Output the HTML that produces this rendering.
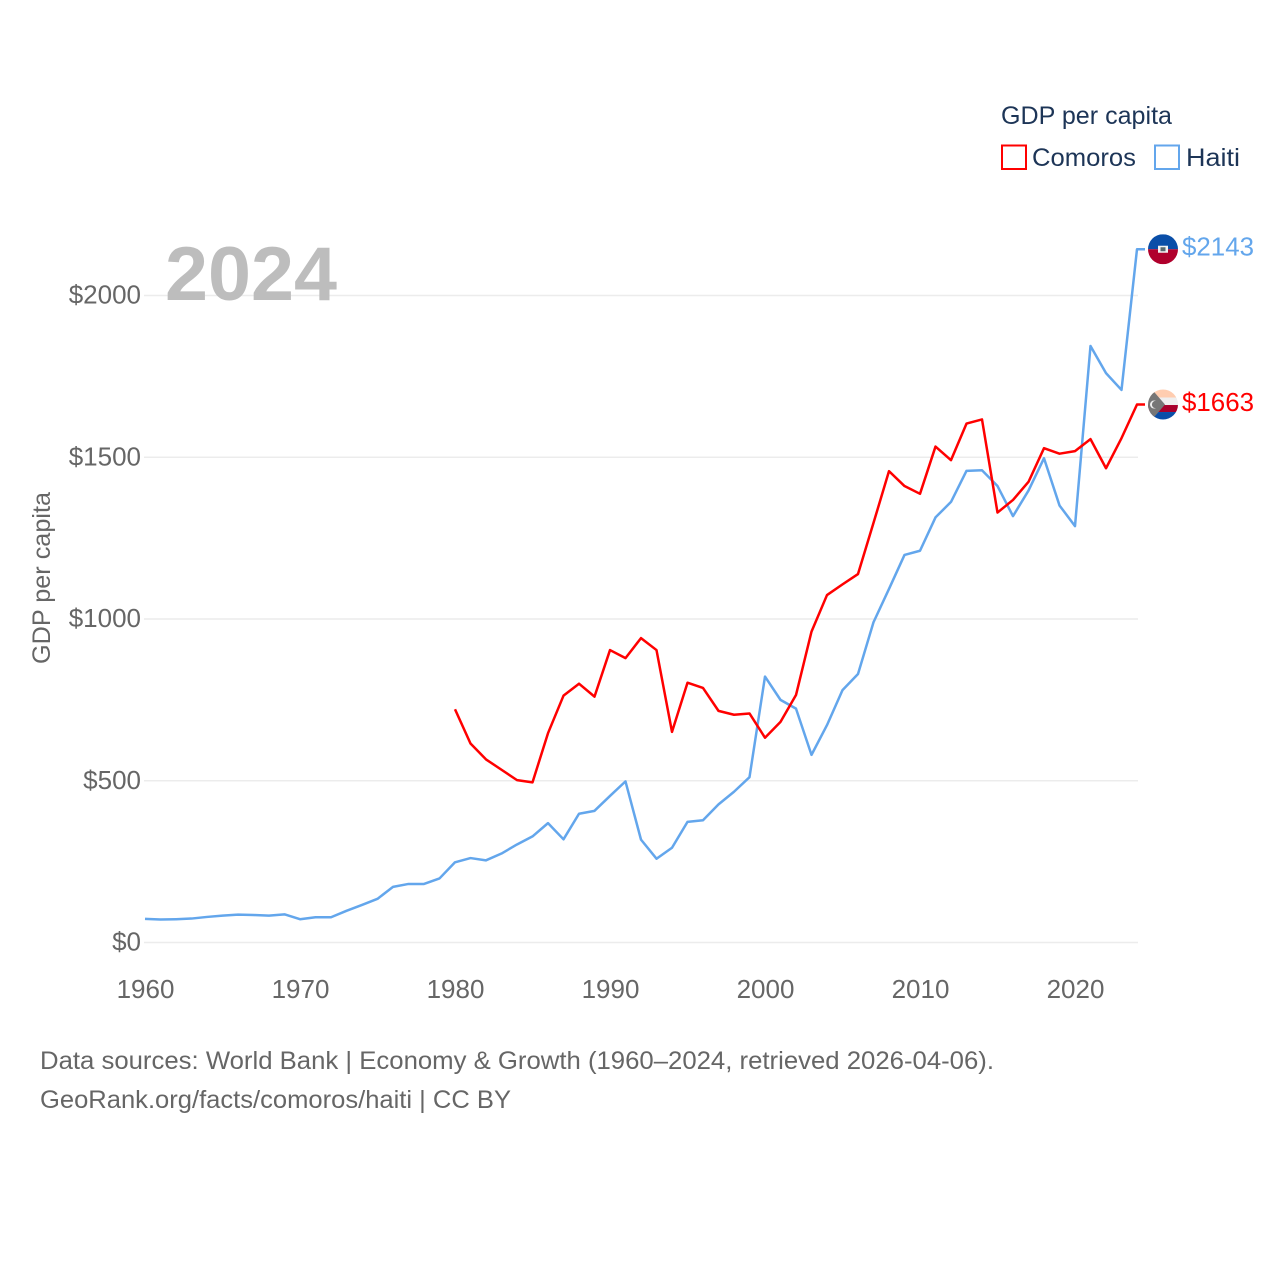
<!DOCTYPE html>
<html>
<head>
<meta charset="utf-8">
<title>GDP per capita: Comoros and Haiti</title>
<style>
html,body{margin:0;padding:0;background:#fff;}
svg{display:block;}
text{font-family:"Liberation Sans",sans-serif;}
</style>
</head>
<body>
<svg id="chart" xmlns="http://www.w3.org/2000/svg" width="1280" height="1280" viewBox="0 0 1280 1280">
  <defs>
    <clipPath id="flag-clip"><circle cx="0" cy="0" r="15"/></clipPath>
  </defs>
  <rect width="1280" height="1280" fill="#ffffff"/>
  <g id="grid"></g>
  <g id="yticks"></g>
  <g id="xticks"></g>
  <text x="165" y="300" font-size="76" font-weight="700" fill="#bdbdbd" textLength="172" lengthAdjust="spacingAndGlyphs">2024</text>
  <text transform="translate(50,578) rotate(-90)" text-anchor="middle" font-size="25" fill="#666666" textLength="172" lengthAdjust="spacingAndGlyphs">GDP per capita</text>
  <g id="series"></g>

  <g id="flag-haiti">
    <g clip-path="url(#flag-clip)">
      <rect x="-15" y="-15" width="30" height="15" fill="#0a4ea8"/>
      <rect x="-15" y="0" width="30" height="15" fill="#b0002c"/>
      <rect x="-5" y="-3.5" width="10" height="7" fill="#f2f2f2"/>
      <rect x="-2.5" y="-2" width="5" height="4" fill="#5a6a70"/>
    </g>
  </g>
  <g id="flag-comoros">
    <g clip-path="url(#flag-clip)">
      <rect x="-15" y="-15" width="30" height="8" fill="#ffcdb0"/>
      <rect x="-15" y="-7" width="30" height="7.5" fill="#efefef"/>
      <rect x="-15" y="0.5" width="30" height="7" fill="#a8002c"/>
      <rect x="-15" y="7.5" width="30" height="8" fill="#0a4ea8"/>
      <polygon points="-15,-15 -11,-15 2,0 -11,15 -15,15" fill="#767676"/>
      <circle cx="-9" cy="0" r="4" fill="#efefef"/>
      <circle cx="-7.5" cy="0" r="3.6" fill="#767676"/>
    </g>
  </g>
  <text id="label-haiti" x="1182" font-size="26" fill="#63a6ec" textLength="72" lengthAdjust="spacingAndGlyphs"></text>
  <text id="label-comoros" x="1182" font-size="26" fill="#ff0000" textLength="72" lengthAdjust="spacingAndGlyphs"></text>

  <g>
    <text x="1001" y="124" font-size="25" fill="#1d3557" textLength="171" lengthAdjust="spacingAndGlyphs">GDP per capita</text>
    <g>
      <rect x="1002" y="145.5" width="24" height="23.5" fill="#ffffff" stroke="#ff0000" stroke-width="2"/>
      <text x="1032" y="166" font-size="25" fill="#1d3557" textLength="104" lengthAdjust="spacingAndGlyphs">Comoros</text>
    </g>
    <g>
      <rect x="1155" y="145.5" width="24" height="23.5" fill="#ffffff" stroke="#63a6ec" stroke-width="2"/>
      <text x="1186" y="166" font-size="25" fill="#1d3557" textLength="54" lengthAdjust="spacingAndGlyphs">Haiti</text>
    </g>
  </g>

  <text x="40" y="1069" font-size="25" fill="#666666" textLength="954" lengthAdjust="spacingAndGlyphs">Data sources: World Bank | Economy &amp; Growth (1960–2024, retrieved 2026-04-06).</text>
  <text x="40" y="1108" font-size="25" fill="#666666" textLength="471" lengthAdjust="spacingAndGlyphs">GeoRank.org/facts/comoros/haiti | CC BY</text>
</svg>
<script>
const startYear = 1960;
const haitiValues = [73,71,72,74,79,83,86,85,83,87,72,78,78,98,116,135,172,181,181,198,248,261,254,275,303,328,369,319,398,407,453,498,318,259,293,373,378,427,466,511,822,750,723,580,672,780,830,990,1093,1198,1211,1314,1362,1458,1460,1411,1318,1397,1497,1351,1287,1844,1760,1708,2143];
const comorosStartYear = 1980;
const comorosValues = [721,615,566,534,502,495,647,763,800,760,904,879,941,904,651,803,787,716,704,708,633,682,765,961,1074,1107,1139,1297,1457,1411,1387,1533,1491,1604,1617,1329,1368,1424,1528,1511,1519,1556,1466,1559,1663];
const yTickValues = [0,500,1000,1500,2000];
const xTickYears = [1960,1970,1980,1990,2000,2010,2020];

const NS = 'http://www.w3.org/2000/svg';
function xScale(year){ return 145 + (year - 1960) * 15.5; }
function yScale(value){ return 942.5 - value * 0.3235; }
function money(value){ return '$' + value; }

const gridG = document.getElementById('grid');
const yG = document.getElementById('yticks');
yTickValues.forEach(function(v){
  const line = document.createElementNS(NS, 'line');
  
  
  line.setAttribute('x1', 144);
  line.setAttribute('x2', 1138);
  line.setAttribute('y1', yScale(v));
  line.setAttribute('y2', yScale(v));
  line.setAttribute('stroke', '#ececec');
  line.setAttribute('stroke-width', 1.5);
  gridG.appendChild(line);
  const t = document.createElementNS(NS, 'text');
  
  
  t.setAttribute('x', 141);
  t.setAttribute('y', yScale(v) + 8);
  t.setAttribute('text-anchor', 'end');
  t.setAttribute('font-size', 26);
  t.setAttribute('fill', '#666666');
  t.textContent = money(v);
  yG.appendChild(t);
});

const xG = document.getElementById('xticks');
xTickYears.forEach(function(y){
  const t = document.createElementNS(NS, 'text');
  
  
  t.setAttribute('x', xScale(y) + 0.5);
  t.setAttribute('y', 998);
  t.setAttribute('text-anchor', 'middle');
  t.setAttribute('font-size', 26);
  t.setAttribute('fill', '#666666');
  t.textContent = String(y);
  xG.appendChild(t);
});

function drawSeries(values, firstYear, color, name){
  const pts = values.map(function(v, i){ return xScale(firstYear + i) + ',' + yScale(v); });
  const lastY = yScale(values[values.length - 1]);
  pts.push((xScale(firstYear + values.length - 1) + 8) + ',' + lastY);
  const p = document.createElementNS(NS, 'polyline');
  
  
  p.setAttribute('points', pts.join(' '));
  p.setAttribute('fill', 'none');
  p.setAttribute('stroke', color);
  p.setAttribute('stroke-width', 2.5);
  p.setAttribute('stroke-linejoin', 'round');
  document.getElementById('series').appendChild(p);
}
drawSeries(haitiValues, startYear, '#63a6ec', 'haiti-line');
drawSeries(comorosValues, comorosStartYear, '#ff0000', 'comoros-line');

const haitiLast = haitiValues[haitiValues.length - 1];
const comorosLast = comorosValues[comorosValues.length - 1];
document.getElementById('flag-haiti').setAttribute('transform', 'translate(1163,' + yScale(haitiLast) + ')');
document.getElementById('flag-comoros').setAttribute('transform', 'translate(1163,' + yScale(comorosLast) + ')');
const lh = document.getElementById('label-haiti');
lh.setAttribute('y', yScale(haitiLast) + 6.5);
lh.textContent = money(haitiLast);
const lc = document.getElementById('label-comoros');
lc.setAttribute('y', yScale(comorosLast) + 6.5);
lc.textContent = money(comorosLast);
</script>
</body>
</html>
